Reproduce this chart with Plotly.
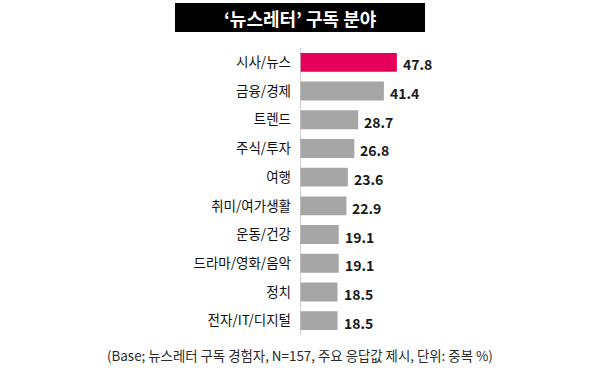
import plotly.graph_objects as go

categories = ["시사/뉴스", "금융/경제", "트렌드", "주식/투자", "여행", "취미/여가생활",
              "운동/건강", "드라마/영화/음악", "정치", "전자/IT/디지털"]
values = [47.8, 41.4, 28.7, 26.8, 23.6, 22.9, 19.1, 19.1, 18.5, 18.5]
colors = ["#E6005C"] + ["#A6A6A6"] * 9

title_text = "‘뉴스레터’ 구독 분야"
footnote = "(Base; 뉴스레터 구독 경험자, N=157, 주요 응답값 제시, 단위: 중복 %)"

FONT = "Noto Sans CJK KR"

fig = go.Figure()
fig.add_trace(go.Bar(
    x=values, y=categories, orientation="h",
    marker=dict(color=colors, line=dict(width=0)),
    width=0.66,
    hoverinfo="skip",
))

annotations = []
for c, v in zip(categories, values):
    annotations.append(dict(
        x=v, y=c, xref="x", yref="y", text=f"<b>{v}</b>", showarrow=False,
        xanchor="left", xshift=4, yshift=-2,
        font=dict(family=FONT, size=14, color="#1A1A1A"),
    ))

annotations.append(dict(
    x=0, y=1.106, xref="paper", yref="paper", text=f"<b>{title_text}</b>",
    showarrow=False, xanchor="center", yanchor="middle",
    font=dict(family=FONT, size=18, color="#FFFFFF"),
))
annotations.append(dict(
    x=0, y=-0.07, xref="paper", yref="paper", text=footnote,
    showarrow=False, xanchor="center", yanchor="middle",
    font=dict(family=FONT, size=13.4, color="#2A2A2A"),
))

fig.update_layout(
    width=600, height=378,
    margin=dict(l=300, r=0, t=48, b=43, autoexpand=False),
    paper_bgcolor="white", plot_bgcolor="white",
    showlegend=False,
    annotations=annotations,
    shapes=[dict(type="rect", xref="paper", yref="paper",
                 x0=-0.4167, x1=0.4167, y0=1.0557, y1=1.157,
                 fillcolor="#000000", line=dict(width=0), layer="below")],
    xaxis=dict(range=[0, 148], visible=False, fixedrange=True),
    yaxis=dict(
        autorange="reversed", showgrid=False, zeroline=False,
        showline=False, ticks="", ticklabelstandoff=8, automargin=False,
        tickfont=dict(family=FONT, size=13.5, color="#111111"),
        fixedrange=True,
    ),
)
# vertical axis line
fig.add_shape(type="line", xref="x", yref="paper", x0=0, x1=0, y0=0, y1=1,
              line=dict(color="#BFBFBF", width=1.5))

fig.write_html("out.html", config={"displayModeBar": False},
               post_script="document.body.style.margin='0';")
